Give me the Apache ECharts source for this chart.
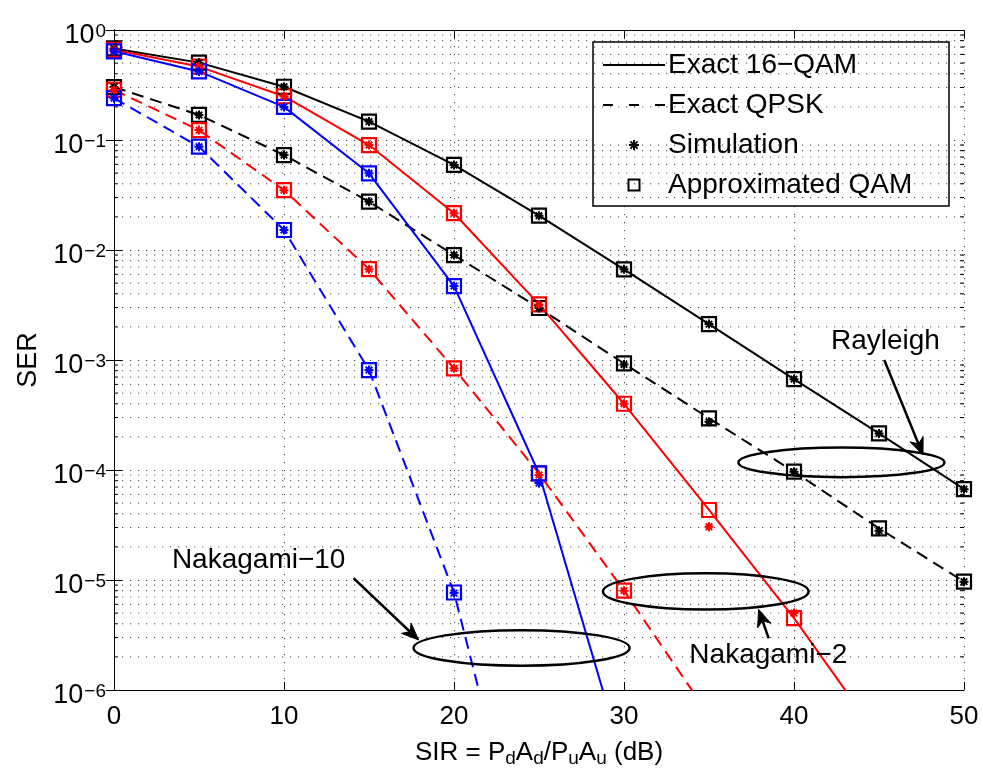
<!DOCTYPE html>
<html><head><meta charset="utf-8">
<script src="https://cdn.jsdelivr.net/npm/echarts@6/dist/echarts.min.js"></script>
<style>html,body{margin:0;padding:0;background:#fff}#c{width:983px;height:772px}</style>
</head><body><div id="c"></div>
<script>
// ---------- data ----------
const snr = [0, 5, 10, 15, 20, 25, 30, 35, 40, 45, 50];
// exact curves (last entries continue below the 1e-6 floor of the axis)
const exactRay16    = [0.68, 0.505, 0.305, 0.147, 0.0593, 0.0205, 0.00667, 0.00212, 6.7e-4, 2.15e-4, 6.7e-5];
const exactRayQPSK  = [0.303, 0.169, 0.073, 0.0275, 0.009, 0.00297, 9.3e-4, 2.95e-4, 9.66e-5, 2.95e-5, 9.66e-6];
const exactNak2_16  = [0.66, 0.465, 0.25, 0.09, 0.0216, 0.0032, 4.0e-4, 4.33e-5, 4.5e-6, 3.7e-7];
const exactNak2QPSK = [0.285, 0.123, 0.035, 0.0067, 8.4e-4, 9.3e-5, 8.0e-6, 5.9e-7];
const exactNak10_16 = [0.64, 0.42, 0.2, 0.0498, 0.0047, 9.3e-5, 2.2e-7];
const exactNak10QPSK= [0.24, 0.087, 0.0152, 8.1e-4, 7.7e-6, 7e-9];
// approximated QAM (squares)
const apxRay16    = [0.68, 0.505, 0.305, 0.147, 0.0593, 0.0205, 0.00667, 0.00212, 6.7e-4, 2.15e-4, 6.7e-5];
const apxRayQPSK  = [0.303, 0.169, 0.073, 0.0275, 0.009, 0.00297, 9.3e-4, 2.95e-4, 9.66e-5, 2.95e-5, 9.66e-6];
const apxNak2_16  = [0.66, 0.465, 0.25, 0.09, 0.0216, 0.0032, 4.0e-4, 4.33e-5, 4.5e-6];
const apxNak2QPSK = [0.285, 0.123, 0.035, 0.0067, 8.4e-4, 9.3e-5, 8.0e-6];
const apxNak10_16 = [0.64, 0.42, 0.2, 0.0498, 0.0047, 9.3e-5];
const apxNak10QPSK= [0.24, 0.087, 0.0152, 8.1e-4, 7.7e-6];
// simulation (stars)
const simRay16    = [0.68, 0.505, 0.305, 0.147, 0.0593, 0.0205, 0.00667, 0.00212, 6.7e-4, 2.15e-4, 6.7e-5];
const simRayQPSK  = [0.303, 0.169, 0.073, 0.0275, 0.009, 0.00297, 9.1e-4, 2.75e-4, 9.66e-5, 2.8e-5, 9.66e-6];
const simNak2_16  = [0.66, 0.465, 0.25, 0.09, 0.0216, 0.0032, 4.0e-4, 3.05e-5, 5.0e-6];
const simNak2QPSK = [0.285, 0.123, 0.035, 0.0067, 8.4e-4, 9.0e-5, 8.0e-6];
const simNak10_16 = [0.64, 0.42, 0.2, 0.0498, 0.0047, 7.6e-5];
const simNak10QPSK= [0.24, 0.087, 0.0152, 8.1e-4, 7.6e-6];

const legendNames = ['Exact 16\u2212QAM', 'Exact QPSK', 'Simulation', 'Approximated QAM'];

// ---------- build ----------
const FONT = 'Liberation Sans, Arial, Helvetica, sans-serif';
const STAR = 'path://M5,0L5,10M0,5L10,5M1.4,1.4L8.6,8.6M1.4,8.6L8.6,1.4';
const DASH = [12, 7];
const pts = arr => arr.map((v, i) => [snr[i], v]);

const curves = [
  {exact: exactRay16, apx: apxRay16, sim: simRay16, color: '#000000', dashed: false},
  {exact: exactRayQPSK, apx: apxRayQPSK, sim: simRayQPSK, color: '#000000', dashed: true},
  {exact: exactNak2_16, apx: apxNak2_16, sim: simNak2_16, color: '#ff0000', dashed: false},
  {exact: exactNak2QPSK, apx: apxNak2QPSK, sim: simNak2QPSK, color: '#ff0000', dashed: true},
  {exact: exactNak10_16, apx: apxNak10_16, sim: simNak10_16, color: '#0000ff', dashed: false},
  {exact: exactNak10QPSK, apx: apxNak10QPSK, sim: simNak10QPSK, color: '#0000ff', dashed: true}
];

// minor log grid values (2..9 x 10^k)
const minorVals = [];
for (let e = -6; e < 0; e++) for (let m = 2; m <= 9; m++) minorVals.push(m * Math.pow(10, e));

const series = [];
series.push({
  type: 'custom', coordinateSystem: 'cartesian2d', silent: true, z: 1,
  data: minorVals.map(v => [0, v]), encode: {x: 0, y: 1},
  renderItem: function (params, api) {
    const v = api.value(1);
    const a = api.coord([0, v]), b = api.coord([50, v]);
    return {type: 'group', children: [
      {type: 'line', shape: {x1: a[0], y1: a[1], x2: b[0], y2: b[1]}, style: {stroke: '#444', lineWidth: 1, lineDash: [1.2, 6.8]}},
      {type: 'line', shape: {x1: a[0], y1: a[1], x2: a[0] + 4, y2: a[1]}, style: {stroke: '#000', lineWidth: 1}},
      {type: 'line', shape: {x1: b[0] - 4, y1: b[1], x2: b[0], y2: b[1]}, style: {stroke: '#000', lineWidth: 1}}
    ]};
  }
});
curves.forEach((c, i) => {
  series.push({type: 'line', name: 'exact' + i, data: pts(c.exact), symbol: 'none', clip: true, z: 3, silent: true,
    lineStyle: {color: c.color, width: 2, type: c.dashed ? DASH : 'solid'}});
});
curves.forEach((c, i) => {
  series.push({type: 'scatter', name: 'apx' + i, data: pts(c.apx), symbol: 'rect', symbolSize: 14, z: 4, silent: true,
    itemStyle: {color: 'rgba(255,255,255,0)', borderColor: c.color, borderWidth: 2.2, opacity: 1}});
  series.push({type: 'scatter', name: 'sim' + i, data: pts(c.sim), symbol: STAR, symbolSize: 9, z: 5, silent: true,
    itemStyle: {color: c.color, borderColor: c.color, borderWidth: 2, opacity: 1}});
});

const dotted = {color: '#444', width: 1, type: [1.2, 6.8]};

const option = {
  animation: false,
  backgroundColor: '#fff',
  grid: {left: 114, right: 19, top: 30, bottom: 82, containLabel: false, outerBoundsMode: 'none'},
  xAxis: [{
    type: 'value', min: 0, max: 50, interval: 10,
    name: '{n|SIR = P}{s|d}{n|A}{s|d}{n|/P}{s|u}{n|A}{s|u}{n| (dB)}',
    nameLocation: 'middle', nameGap: 46,
    nameTextStyle: {rich: {
      n: {fontSize: 26, fontFamily: FONT, color: '#000', verticalAlign: 'top', lineHeight: 28},
      s: {fontSize: 19, fontFamily: FONT, color: '#000', verticalAlign: 'bottom', lineHeight: 19, padding: [14, 0, 0, 0]}
    }},
    axisLine: {show: true, lineStyle: {color: '#000', width: 1}},
    axisTick: {show: true, inside: true, length: 8, lineStyle: {color: '#000'}},
    axisLabel: {fontSize: 26, fontFamily: FONT, color: '#000', margin: 14, showMinLabel: true, showMaxLabel: true},
    splitLine: {show: true, lineStyle: dotted}
  }, {
    type: 'value', min: 0, max: 50, interval: 10, position: 'top',
    axisLine: {show: true, lineStyle: {color: '#000', width: 1}},
    axisTick: {show: true, inside: true, length: 8, lineStyle: {color: '#000'}},
    axisLabel: {show: false}, splitLine: {show: false}
  }],
  yAxis: [{
    type: 'log', logBase: 10, min: 1e-6, max: 1, splitNumber: 6,
    name: 'SER', nameLocation: 'middle', nameGap: 66, nameRotate: 90,
    nameTextStyle: {fontSize: 27, fontFamily: FONT, color: '#000'},
    axisLine: {show: true, lineStyle: {color: '#000', width: 1}},
    axisTick: {show: true, inside: true, length: 8, lineStyle: {color: '#000'}},
    axisLabel: {
      margin: 8, showMinLabel: true, showMaxLabel: true, padding: [12, 0, 0, 0],
      formatter: function (v) {
        const e = Math.round(Math.log10(v));
        return '{b|10}{s|' + (e === 0 ? '0' : '\u2212' + (-e)) + '}';
      },
      rich: {
        b: {fontSize: 27, fontFamily: FONT, color: '#000', verticalAlign: 'bottom', lineHeight: 27},
        s: {fontSize: 19, fontFamily: FONT, color: '#000', verticalAlign: 'top', lineHeight: 19, padding: [0, 0, 14, 1]}
      }
    },
    splitLine: {show: true, lineStyle: dotted}
  }, {
    type: 'log', logBase: 10, min: 1e-6, max: 1, splitNumber: 6, position: 'right',
    axisLine: {show: true, lineStyle: {color: '#000', width: 1}},
    axisTick: {show: true, inside: true, length: 8, lineStyle: {color: '#000'}},
    axisLabel: {show: false}, splitLine: {show: false}
  }],
  series: series
};

const chart = echarts.init(document.getElementById('c'), null, {renderer: 'canvas'});
chart.setOption(option);

// ---------- annotations (positioned in data coordinates) ----------
const P = (x, y) => chart.convertToPixel({xAxisIndex: 0, yAxisIndex: 0}, [x, y]);
function ellipse(x1, x2, yTop, yBot) {
  const a = P(x1, yTop), b = P(x2, yBot);
  return {type: 'ellipse', silent: true, z: 10,
    shape: {cx: (a[0] + b[0]) / 2, cy: (a[1] + b[1]) / 2, rx: Math.abs(b[0] - a[0]) / 2, ry: Math.abs(b[1] - a[1]) / 2},
    style: {fill: 'none', stroke: '#000', lineWidth: 2.5}};
}
function arrow(xa, ya, xb, yb) {
  const p0 = P(xa, ya), p1 = P(xb, yb);
  const dx = p1[0] - p0[0], dy = p1[1] - p0[1], L = Math.hypot(dx, dy);
  const ux = dx / L, uy = dy / L, nx = -uy, ny = ux;
  const hl = 17, hw = 7;
  const bx = p1[0] - ux * hl, by = p1[1] - uy * hl;
  const mx = p1[0] - ux * hl * 0.7, my = p1[1] - uy * hl * 0.7;
  return [
    {type: 'line', silent: true, z: 10, shape: {x1: p0[0], y1: p0[1], x2: mx, y2: my}, style: {stroke: '#000', lineWidth: 2.5}},
    {type: 'polygon', silent: true, z: 10, shape: {points: [[p1[0], p1[1]], [bx + nx * hw, by + ny * hw], [mx, my], [bx - nx * hw, by - ny * hw]]},
      style: {fill: '#000', stroke: '#000', lineWidth: 1}}
  ];
}
function label(txt, x, y) {
  const p = P(x, y);
  return {type: 'text', silent: true, z: 10, x: p[0], y: p[1],
    style: {text: txt, fontSize: 28, fontFamily: FONT, fill: '#000', align: 'center', verticalAlign: 'middle', textAlign: 'center', textVerticalAlign: 'middle'}};
}
const g = [];
g.push(ellipse(36.73, 48.85, 1.6e-4, 8.6e-5));
g.push(ellipse(28.76, 40.86, 1.15e-5, 5.4e-6));
g.push(ellipse(17.62, 30.33, 3.5e-6, 1.66e-6));
g.push(...arrow(45.31, 1.0e-3, 47.59, 1.37e-4));
g.push(...arrow(38.51, 2.95e-6, 37.92, 5.4e-6));
g.push(...arrow(14.09, 1.04e-5, 17.92, 2.85e-6));
g.push(label('Rayleigh', 45.38, 1.47e-3));
g.push(label('Nakagami\u22122', 38.49, 2.05e-6));
g.push(label('Nakagami\u221210', 8.51, 1.52e-5));

// ---------- legend box (drawn with graphic elements) ----------
const LG = {left: 593, top: 42, width: 356, height: 164, row0: 23, rowGap: 40, iconX: 10, iconW: 62, textX: 75};
const lg = [{type: 'rect', silent: true, shape: {x: 0, y: 0, width: LG.width, height: LG.height},
  style: {fill: '#fff', stroke: '#000', lineWidth: 1.5}}];
const seg = (x1, y1, x2, y2, extra) => ({type: 'line', silent: true, shape: {x1: x1, y1: y1, x2: x2, y2: y2},
  style: Object.assign({stroke: '#000', lineWidth: 2}, extra || {})});
legendNames.forEach((nm, i) => {
  const y = LG.row0 + i * LG.rowGap, cx = LG.iconX + LG.iconW / 2;
  if (i === 0) lg.push(seg(LG.iconX, y, LG.iconX + LG.iconW, y));
  if (i === 1) lg.push(seg(LG.iconX, y, LG.iconX + LG.iconW, y, {lineDash: [10, 16]}));
  if (i === 2) {
    lg.push(seg(cx, y - 5, cx, y + 5));
    lg.push(seg(cx - 5, y, cx + 5, y));
    lg.push(seg(cx - 3.6, y - 3.6, cx + 3.6, y + 3.6));
    lg.push(seg(cx - 3.6, y + 3.6, cx + 3.6, y - 3.6));
  }
  if (i === 3) lg.push({type: 'rect', silent: true, shape: {x: cx - 5.5, y: y - 5.5, width: 11, height: 11}, style: {fill: 'none', stroke: '#000', lineWidth: 2}});
  lg.push({type: 'text', silent: true, x: LG.textX, y: y,
    style: {text: nm, fontSize: 28, fontFamily: FONT, fill: '#000', align: 'left', verticalAlign: 'middle', textAlign: 'left', textVerticalAlign: 'middle'}});
});
g.push({type: 'group', x: LG.left, y: LG.top, z: 20, children: lg});

chart.setOption({graphic: {elements: g}});
</script>
</body></html>
